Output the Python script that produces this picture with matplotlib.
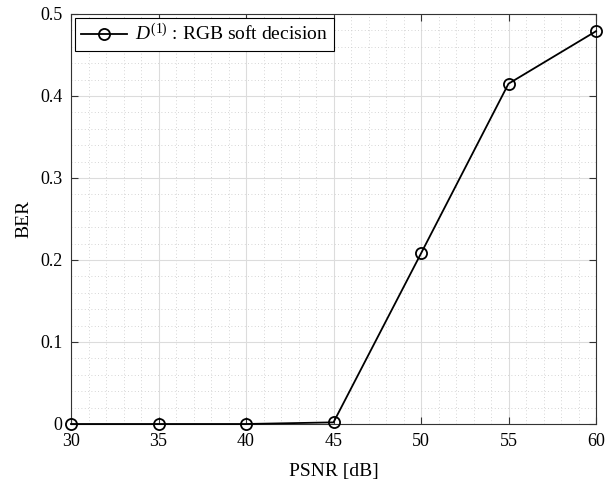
import matplotlib
matplotlib.use("Agg")
import matplotlib.pyplot as plt
from matplotlib.ticker import MultipleLocator

psnr = [30, 35, 40, 45, 50, 55, 60]
ber = [0.0, 0.0, 0.0, 0.002, 0.208, 0.415, 0.479]
xticks = [30, 35, 40, 45, 50, 55, 60]
yticks = [0, 0.1, 0.2, 0.3, 0.4, 0.5]
yticklabels = ["0", "0.1", "0.2", "0.3", "0.4", "0.5"]

plt.rcParams['font.family'] = ['Liberation Serif', 'DejaVu Serif']
plt.rcParams['mathtext.fontset'] = 'custom'
plt.rcParams['mathtext.rm'] = 'Liberation Serif'
plt.rcParams['mathtext.it'] = 'Liberation Serif:italic'

fig = plt.figure(figsize=(6.13, 4.83), dpi=100)
ax = fig.add_axes([71/613, 59/483, (596-71)/613, (424-14)/483])

ax.plot(psnr, ber, color='black', lw=1.3, marker='o', markersize=8,
        markerfacecolor='none', markeredgecolor='black', markeredgewidth=1.3,
        label=r'$D^{\mathit{(1)}}$ : RGB soft decision', clip_on=False, zorder=5)

ax.set_xlim(30, 60)
ax.set_ylim(0, 0.5)
ax.set_xticks(xticks)
ax.set_yticks(yticks)
ax.set_yticklabels(yticklabels)
ax.xaxis.set_minor_locator(MultipleLocator(1))
ax.yaxis.set_minor_locator(MultipleLocator(0.02))
ax.grid(which='major', color='#dcdcdc', lw=0.8)
ax.grid(which='minor', color='#c8c8c8', lw=0.6, linestyle=(0, (1, 3)))
ax.set_axisbelow(True)
ax.tick_params(which='major', direction='in', length=5, top=True, right=True,
               labelsize=13, color='#333333')
ax.tick_params(axis='x', which='major', pad=6.5)
ax.tick_params(axis='y', which='major', pad=6)
ax.tick_params(which='minor', length=0)
for s in ax.spines.values():
    s.set_color('#333333')
    s.set_linewidth(0.8)

ax.set_xlabel('PSNR [dB]', fontsize=14, labelpad=9)
ax.set_ylabel('BER', fontsize=14, labelpad=6)

leg = ax.legend(loc='upper left', fontsize=14, fancybox=False, framealpha=1,
                edgecolor='black', borderaxespad=0.2, handlelength=2.4,
                borderpad=0.3, handletextpad=0.4)
leg.get_frame().set_linewidth(0.8)

fig.savefig('out.png', dpi=100)
